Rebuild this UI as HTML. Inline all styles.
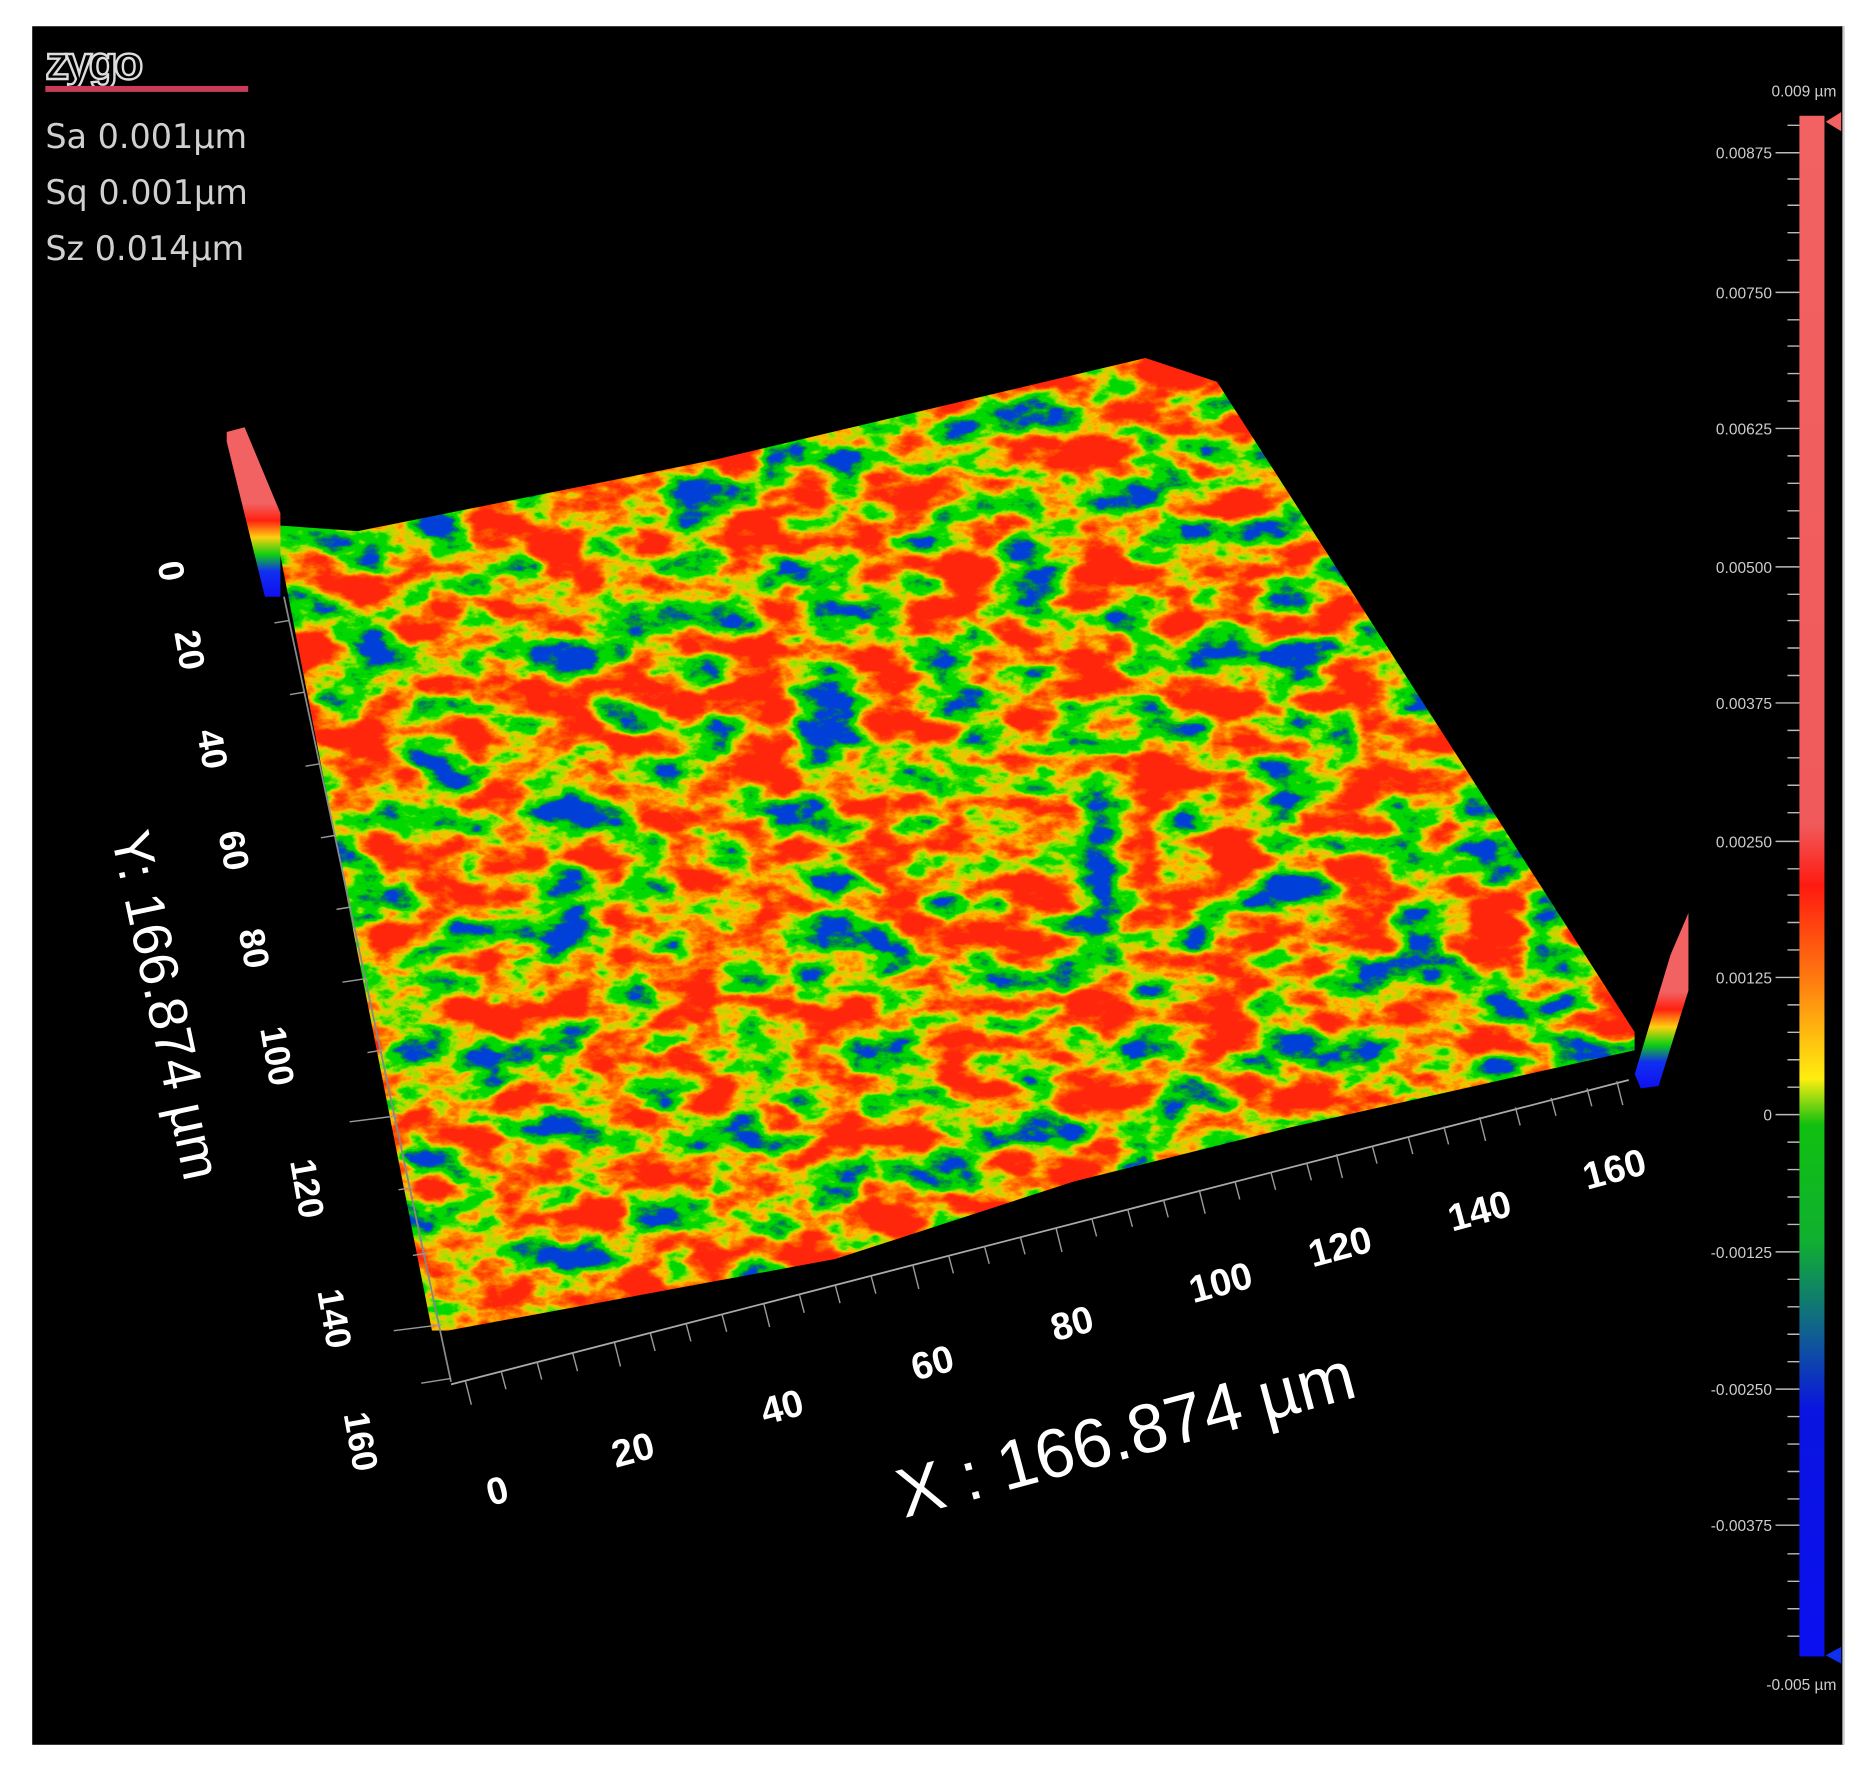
<!DOCTYPE html>
<html><head><meta charset="utf-8"><style>
html,body{margin:0;padding:0;background:#fff;}
svg{display:block;}
</style></head><body>
<svg width="1871" height="1777" viewBox="0 0 1568 1489" preserveAspectRatio="none" xmlns="http://www.w3.org/2000/svg">
<defs>
<linearGradient id="cb" x1="0" y1="0" x2="0" y2="1">
<stop offset="0" stop-color="#f26262"/>
<stop offset="0.46" stop-color="#f05a5a"/>
<stop offset="0.5" stop-color="#ff1a10"/>
<stop offset="0.56" stop-color="#ff7a10"/>
<stop offset="0.625" stop-color="#ffee10"/>
<stop offset="0.655" stop-color="#10c010"/>
<stop offset="0.73" stop-color="#10b030"/>
<stop offset="0.79" stop-color="#106090"/>
<stop offset="0.84" stop-color="#0a14e0"/>
<stop offset="1" stop-color="#0a10f0"/>
</linearGradient>
<linearGradient id="bar" x1="0" y1="0" x2="0" y2="1">
<stop offset="0" stop-color="#f26262"/>
<stop offset="0.45" stop-color="#f26262"/>
<stop offset="0.55" stop-color="#ff2010"/>
<stop offset="0.65" stop-color="#ffd010"/>
<stop offset="0.75" stop-color="#10d010"/>
<stop offset="0.85" stop-color="#1030f0"/>
<stop offset="1" stop-color="#1010f0"/>
</linearGradient>
<filter id="surf" x="0" y="0" width="1" height="1" color-interpolation-filters="sRGB">
<feTurbulence type="fractalNoise" baseFrequency="0.018 0.03" numOctaves="6" seed="11" result="n"/>
<feColorMatrix in="n" type="matrix" values="1 0 0 0 0  1 0 0 0 0  1 0 0 0 0  0 0 0 0 1" result="g0"/>
<feComponentTransfer in="g0" result="g">
<feFuncR type="linear" slope="2.3" intercept="-0.6"/>
<feFuncG type="linear" slope="2.3" intercept="-0.6"/>
<feFuncB type="linear" slope="2.3" intercept="-0.6"/>
</feComponentTransfer>
<feComponentTransfer in="g">
<feFuncR type="table" tableValues="0 0 0 0 0.6 1 1 1 1 1"/>
<feFuncG type="table" tableValues="0.25 0.55 0.85 0.85 0.9 0.75 0.5 0.3 0.15 0.15"/>
<feFuncB type="table" tableValues="0.85 0.25 0 0 0 0 0 0 0.05 0.05"/>
</feComponentTransfer>
</filter>
<clipPath id="sc"><polygon points="230,440 300,445 600,385 960,300 1020,320 1370,865 1370,880 1080,945 900,990 700,1055 375,1115 362,1115 300,800"/></clipPath>
</defs>
<rect x="0" y="0" width="1568" height="1489" fill="#fff"/>
<rect x="27" y="22" width="1518" height="1440" fill="#000"/>
<line x1="1545" y1="22" x2="1545" y2="1462" stroke="#ccc" stroke-width="2"/>

<text x="38" y="66" font-family="Liberation Sans, sans-serif" font-weight="bold" font-size="40" fill="#000" stroke="#ddd" stroke-width="2" letter-spacing="-3">zygo</text>
<rect x="38" y="72" width="170" height="5" fill="#c83c5a"/>
<g font-family="DejaVu Sans, sans-serif" font-size="28" fill="#d0d0d0">
<text x="38" y="124">Sa 0.001µm</text>
<text x="38" y="171">Sq 0.001µm</text>
<text x="38" y="218">Sz 0.014µm</text>
</g>

<g clip-path="url(#sc)">
<rect x="200" y="290" width="1200" height="850" filter="url(#surf)"/>
</g>

<polygon points="190,362 205,358 235,430 235,500 222,500 190,370" fill="url(#bar)"/>
<polygon points="1370,900 1400,800 1415,765 1415,830 1390,910 1375,912" fill="url(#bar)"/>

<line x1="378" y1="1160" x2="1365" y2="905" stroke="#aaa" stroke-width="1.5"/>
<line x1="238" y1="500" x2="378" y2="1158" stroke="#888" stroke-width="1.5"/>
<g stroke="#999" stroke-width="1.2">
<path d="M390,1157 l5,20 M420,1149 l4,15 M450,1141 l4,15 M480,1134 l4,15 M515,1125 l5,20 M545,1117 l4,15 M575,1109 l4,15 M605,1101 l4,15 M640,1092 l5,20 M670,1085 l4,15 M700,1077 l4,15 M730,1069 l4,15 M765,1060 l5,20 M795,1052 l4,15 M825,1044 l4,15 M855,1036 l4,15 M885,1029 l5,20 M915,1021 l4,15 M945,1013 l4,15 M975,1005 l4,15 M1005,997 l5,20 M1035,990 l4,15 M1065,982 l4,15 M1095,974 l4,15 M1120,967 l5,20 M1150,960 l4,15 M1180,952 l4,15 M1210,944 l4,15 M1240,936 l5,20 M1270,928 l4,15 M1300,920 l4,15 M1330,912 l4,15 M1355,906 l5,20"/>
<path d="M242,520 l-12,2 M255,580 l-12,2 M268,640 l-12,2 M281,700 l-12,2 M294,760 l-12,2 M307,820 l-20,3 M320,880 l-12,2 M333,935 l-40,5 M346,995 l-12,2 M358,1050 l-12,2 M370,1110 l-40,5 M378,1155 l-25,4"/>
</g>

<g font-family="Liberation Sans, sans-serif" font-weight="bold" font-size="30" fill="#fff">
<text transform="translate(132,472) rotate(80)">0</text>
<text transform="translate(146,530) rotate(80)">20</text>
<text transform="translate(165,613) rotate(80)">40</text>
<text transform="translate(183,698) rotate(80)">60</text>
<text transform="translate(200,780) rotate(80)">80</text>
<text transform="translate(218,862) rotate(80)">100</text>
<text transform="translate(243,973) rotate(80)">120</text>
<text transform="translate(266,1082) rotate(80)">140</text>
<text transform="translate(288,1185) rotate(80)">160</text>
</g>
<text transform="translate(93,700) rotate(78)" font-family="Liberation Sans, sans-serif" font-size="46" fill="#fff">Y: 166.874 µm</text>

<g font-family="Liberation Sans, sans-serif" font-weight="bold" font-size="32" fill="#fff">
<text transform="translate(411,1262) rotate(-15)">0</text>
<text transform="translate(516,1230) rotate(-15)">20</text>
<text transform="translate(641,1194) rotate(-15)">40</text>
<text transform="translate(767,1157) rotate(-15)">60</text>
<text transform="translate(884,1124) rotate(-15)">80</text>
<text transform="translate(1000,1092) rotate(-15)">100</text>
<text transform="translate(1100,1062) rotate(-15)">120</text>
<text transform="translate(1217,1032) rotate(-15)">140</text>
<text transform="translate(1330,997) rotate(-15)">160</text>
</g>
<text transform="translate(758,1272) rotate(-15)" font-family="Liberation Sans, sans-serif" font-size="58" fill="#fff">X : 166.874 µm</text>

<rect x="1508" y="97" width="21" height="1291" fill="url(#cb)"/>
<polygon points="1530,102 1543,94 1543,110" fill="#f26262"/>
<polygon points="1530,1387 1543,1380 1543,1394" fill="#1030f0"/>
<g stroke="#bbb" stroke-width="1.2">
<path d="M1498,105h10M1498,150h10M1498,172h10M1498,195h10M1498,218h10M1498,268h10M1498,290h10M1498,313h10M1498,336h10M1498,382h10M1498,405h10M1498,428h10M1498,451h10M1498,498h10M1498,520h10M1498,543h10M1498,566h10M1498,612h10M1498,635h10M1498,658h10M1498,681h10M1498,728h10M1498,750h10M1498,773h10M1498,796h10M1498,842h10M1498,865h10M1498,888h10M1498,911h10M1498,957h10M1498,980h10M1498,1003h10M1498,1026h10M1498,1072h10M1498,1095h10M1498,1118h10M1498,1141h10M1498,1187h10M1498,1210h10M1498,1233h10M1498,1256h10M1498,1302h10M1498,1325h10M1498,1348h10M1498,1371h10"/>
<path d="M1488,128h20M1488,245h20M1488,359h20M1488,475h20M1488,589h20M1488,705h20M1488,819h20M1488,934h20M1488,1049h20M1488,1164h20M1488,1278h20"/>
</g>
<g font-family="Liberation Sans, sans-serif" font-size="13" fill="#ccc" text-anchor="end">
<text x="1539" y="81">0.009 µm</text>
<text x="1485" y="133">0.00875</text>
<text x="1485" y="250">0.00750</text>
<text x="1485" y="364">0.00625</text>
<text x="1485" y="480">0.00500</text>
<text x="1485" y="594">0.00375</text>
<text x="1485" y="710">0.00250</text>
<text x="1485" y="824">0.00125</text>
<text x="1485" y="939">0</text>
<text x="1485" y="1054">-0.00125</text>
<text x="1485" y="1169">-0.00250</text>
<text x="1485" y="1283">-0.00375</text>
<text x="1539" y="1416">-0.005 µm</text>
</g>
</svg>
</body></html>
